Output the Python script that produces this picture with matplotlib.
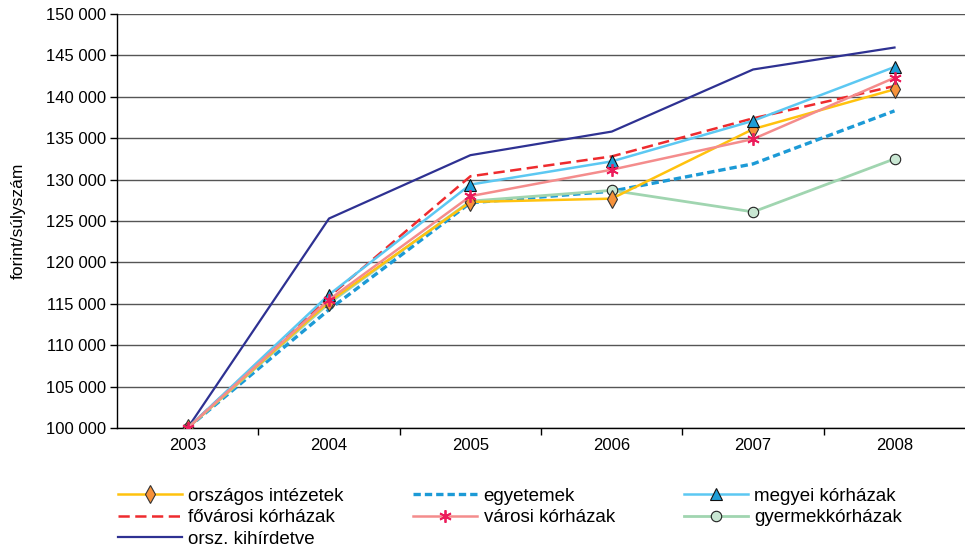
import matplotlib
matplotlib.use("Agg")
import matplotlib.pyplot as plt
from matplotlib.ticker import FixedLocator, FuncFormatter

plt.rcParams['font.family'] = ['Liberation Sans', 'DejaVu Sans']

years = ["2003", "2004", "2005", "2006", "2007", "2008"]

orszagos_intezetek = [100000, 115250, 127300, 127700, 136100, 140900]
egyetemek = [100000, 114300, 127200, 128600, 131900, 138300]
megyei_korhazak = [100000, 116100, 129400, 132200, 137100, 143600]
fovarosi_korhazak = [100000, 115850, 130400, 132800, 137400, 141300]
varosi_korhazak = [100000, 115500, 128000, 131200, 134900, 142300]
gyermekkorhazak = [100000, 115050, 127400, 128700, 126100, 132500]
orsz_kihirdetve = [100000, 125300, 132950, 135800, 143300, 145950]

fig = plt.figure(figsize=(9.65, 5.49), dpi=100)
ax = fig.add_axes([0.1212, 0.2204, 0.879, 0.7541])

x = list(range(len(years)))

h_gyer, = ax.plot(x, gyermekkorhazak, color='#A0D5B0', lw=2.0, marker='o',
                  ms=7.5, mfc='#C9E7D3', mec='#222222', mew=0.8, label='gyermekkórházak', zorder=4.0)
h_orsz, = ax.plot(x, orszagos_intezetek, color='#FFC20E', lw=1.8, marker='d',
                  ms=9, mfc='#F7923A', mec='#333333', mew=0.8, label='országos intézetek', zorder=4.1)
h_egy, = ax.plot(x, egyetemek, color='#1C9AD6', lw=2.4, ls=(0, (2.2, 1.2)),
                 label='egyetemek', zorder=3)
h_megy, = ax.plot(x, megyei_korhazak, color='#5CC8F2', lw=1.8, marker='^',
                  ms=8, mfc='#1E9ED8', mec='#111111', mew=0.8, label='megyei kórházak', zorder=4.2)
h_fov, = ax.plot(x, fovarosi_korhazak, color='#EE2B2E', lw=1.8, ls=(0, (4.5, 2.2)),
                 label='fővárosi kórházak', zorder=3)
h_var, = ax.plot(x, varosi_korhazak, color='#F48C8C', lw=1.8, marker=(6, 2, 0),
                 ms=9, mec='#EC1C5B', mew=1.3, label='városi kórházak', zorder=4.3)
h_kih, = ax.plot(x, orsz_kihirdetve, color='#2E3192', lw=1.6,
                 label='orsz. kihírdetve', zorder=3)

ax.set_xlim(-0.5, len(years) - 0.5)
ax.set_ylim(100000, 150000)

ax.yaxis.set_major_locator(FixedLocator(range(100000, 150001, 5000)))
ax.yaxis.set_major_formatter(FuncFormatter(lambda v, p: f"{int(v):,}".replace(",", " ")))
ax.grid(axis='y', color='#555555', lw=1.0, zorder=0)

ax.set_xticks(x)
ax.set_xticklabels(years)
ax.set_xticks([i + 0.5 for i in range(len(years) - 1)], minor=True)
ax.tick_params(axis='x', which='major', length=0, pad=7, labelsize=12)
ax.tick_params(axis='x', which='minor', length=5, width=1, direction='out')
ax.tick_params(axis='y', length=5, width=1, direction='out', labelsize=12, pad=3)

for side in ('top', 'right'):
    ax.spines[side].set_visible(False)
ax.spines['left'].set_linewidth(1.0)
ax.spines['bottom'].set_linewidth(1.0)

ax.set_ylabel('forint/súlyszám', fontsize=12.5, labelpad=14)

handles = [h_orsz, h_fov, h_kih, h_egy, h_var, h_megy, h_gyer]
fig.legend(handles=handles, labels=[h.get_label() for h in handles],
           loc='upper left', bbox_to_anchor=(0.1223, 0.112), ncol=3, frameon=False,
           fontsize=13.5, handlelength=3.4, handletextpad=0.35, columnspacing=3.7,
           labelspacing=0.23, borderpad=0, borderaxespad=0)

fig.savefig('out.png', dpi=100)
